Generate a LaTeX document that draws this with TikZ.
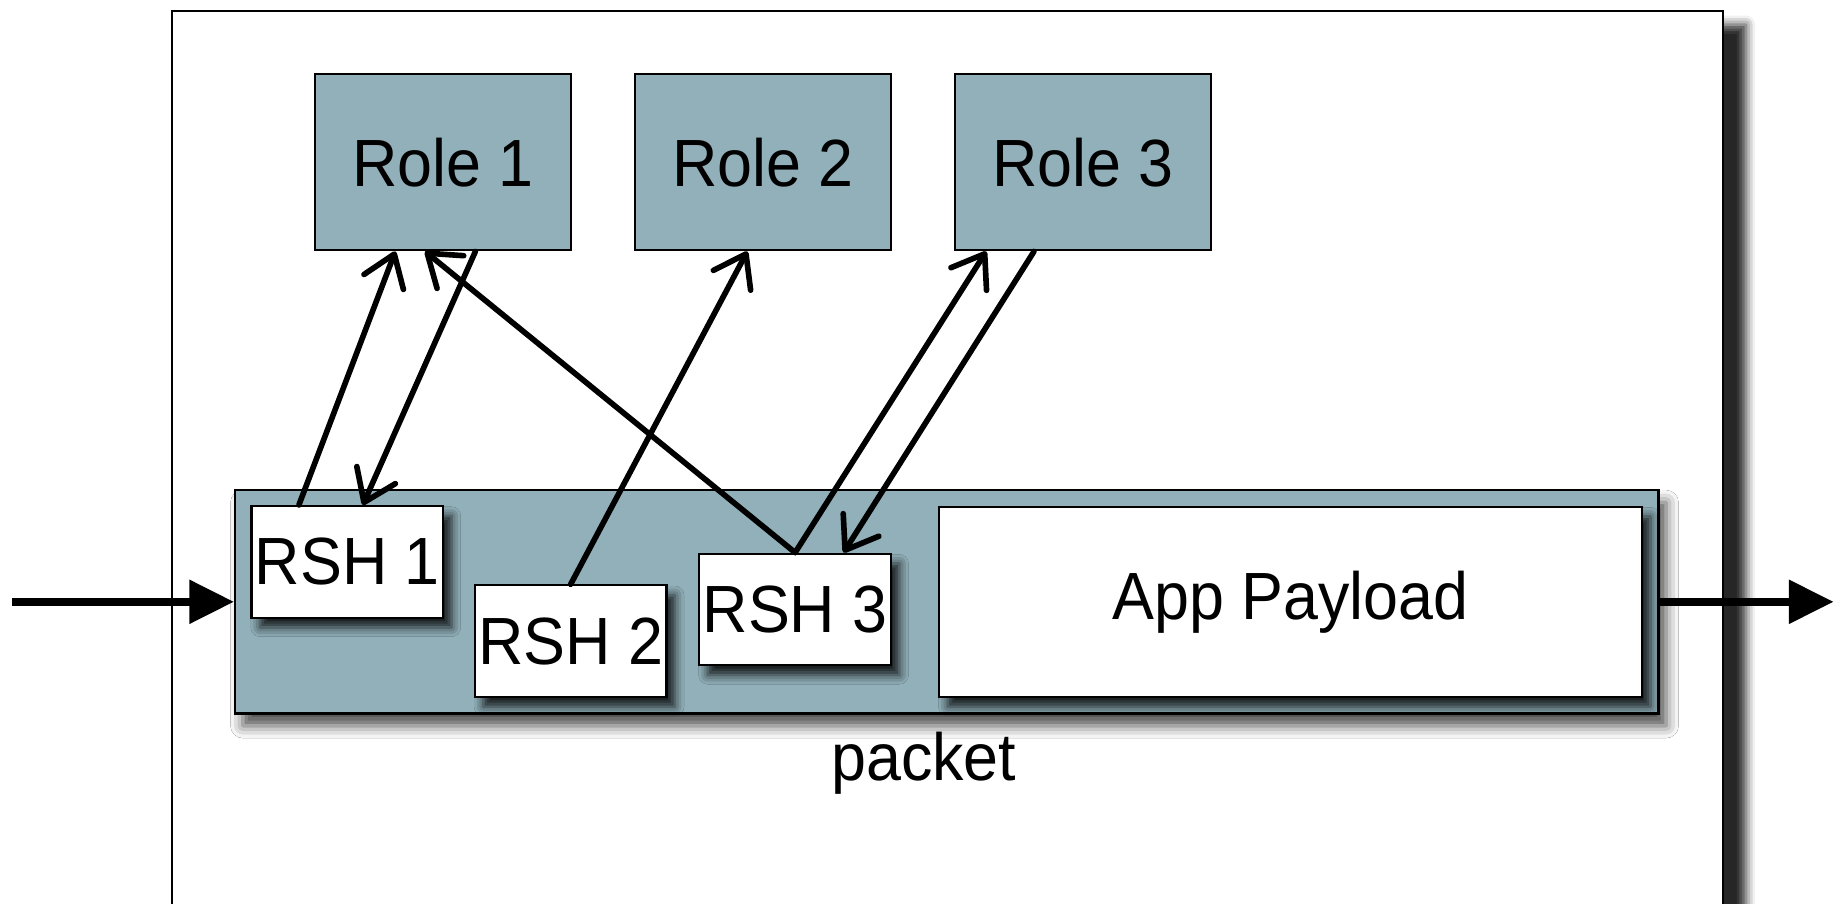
\documentclass[tikz,border=0pt]{standalone}
\usepackage{fontspec}
\setmainfont[FakeStretch=0.94]{Liberation Sans}
\usetikzlibrary{arrows.meta,calc,shadows.blur}
\newdimen\pxu \pxu=0.011754cm
\definecolor{slate}{RGB}{145,176,186}

\begin{document}
\begin{tikzpicture}[x=0.011754cm,y=-0.011754cm,
  lbl/.style={font=\fontsize{19}{22}\selectfont},
  box/.style={lbl, draw=black, line width=0.6pt, inner sep=0pt},
  role/.style={box, fill=slate, minimum width=218\pxu, minimum height=150\pxu},
  hdr/.style={box, fill=white, minimum width=163\pxu, minimum height=95\pxu,
    blur shadow={shadow xshift=2.4pt, shadow yshift=-2.8pt, shadow blur radius=2.6pt, shadow opacity=85}},
  link/.style={line width=1.6pt, line cap=round,
    -{Straight Barb[length=8.5pt,width=12pt,round]}},
  flow/.style={line width=2.3pt, -{Triangle[length=12.7pt,width=12pt]}}]

\useasboundingbox (0,0) rectangle (1568,769);
\clip (0,0) rectangle (1568,769);

% enclosing node frame, running past the lower edge
\node[draw=black, line width=0.6pt, fill=white, inner sep=0pt,
      minimum width=1320\pxu, minimum height=811\pxu,
      blur shadow={shadow xshift=6.5pt, shadow yshift=-4pt, shadow blur radius=2.6pt, shadow opacity=85}]
  (frame) at (806,414.5) {};

% packet with its headers
\node[box, fill=slate, minimum width=1211\pxu, minimum height=190\pxu,
      blur shadow={shadow xshift=2.2pt, shadow yshift=-3.5pt, shadow blur radius=3.5pt, shadow opacity=70}]
  (packet) at (805.5,512) {};
\node[lbl] (pktlabel) at (786,649) {packet};

\node[hdr] (rsh1) at (295.5,478) {RSH 1};
\node[hdr] (rsh2) at (485.5,545.5) {RSH 2};
\node[hdr] (rsh3) at (676.5,518.5) {RSH 3};
\node[hdr, minimum width=598\pxu, minimum height=162\pxu] (app) at (1098,512) {App Payload};

% roles
\node[role] (role1) at (377,138) {Role 1};
\node[role] (role2) at (649,138) {Role 2};
\node[role] (role3) at (921.5,138) {Role 3};

% header <-> role links
\draw[link] ($(rsh1.north west)!0.25!(rsh1.north east)$) -- ($(role1.south west)!0.315!(role1.south east)$);
\draw[link] ($(role1.south west)!0.625!(role1.south east)$) -- ($(rsh1.north west)!0.58!(rsh1.north east)$);
\draw[link] (rsh3.north) -- ($(role1.south west)!0.43!(role1.south east)$);
\draw[link] (rsh2.north) -- ($(role2.south west)!0.44!(role2.south east)$);
\draw[link] (rsh3.north) -- ($(role3.south west)!0.125!(role3.south east)$);
\draw[link] ($(role3.south west)!0.31!(role3.south east)$) -- ($(rsh3.north west)!0.75!(rsh3.north east)$);

% packet flow in and out
\coordinate (inL) at (10,512);
\coordinate (outR) at (1560,512);
\draw[flow] (inL) -- (packet.west);
\draw[flow] (packet.east) -- (outR);
\end{tikzpicture}
\end{document}
